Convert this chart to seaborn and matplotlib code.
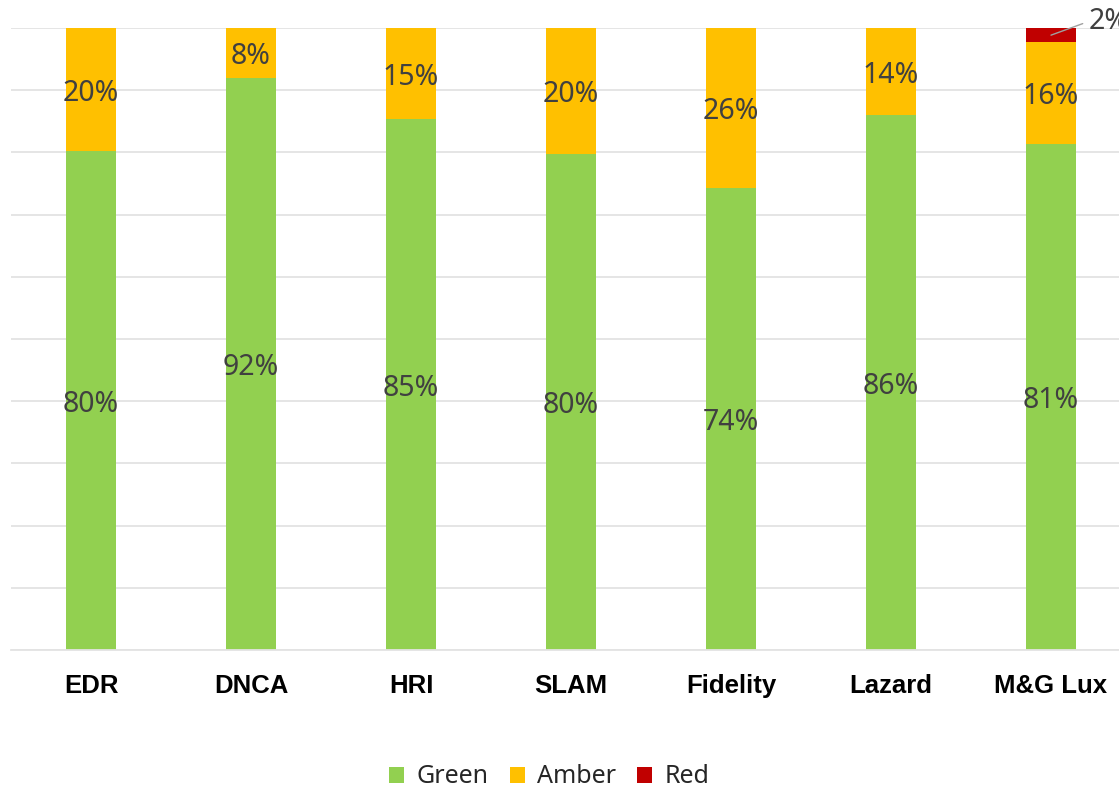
import pandas as pd
import numpy as np
import matplotlib
matplotlib.use("Agg")
import matplotlib.pyplot as plt
import seaborn as sns
from matplotlib.patches import Patch

# Datos (porcentajes)
fondos = ["EDR", "DNCA", "HRI", "SLAM", "Fidelity", "Lazard", "M&G Lux"]
verde = [80.2, 92.0, 85.4, 79.7, 74.3, 86.0, 81.4]
ambar = [19.8, 8.0, 14.6, 20.3, 25.7, 14.0, 16.3]
rojo = [0.0, 0.0, 0.0, 0.0, 0.0, 0.0, 2.3]

colores = {"Green": "#92D050", "Amber": "#FFC000", "Red": "#C00000"}

df = pd.DataFrame({"Fondo": fondos, "Green": verde, "Amber": ambar, "Red": rojo})
df["c1"] = df["Green"]
df["c2"] = df["Green"] + df["Amber"]
df["c3"] = df["c2"] + df["Red"]

sns.set_style("white")
plt.rcParams["font.family"] = ["Noto Sans", "DejaVu Sans"]

fig = plt.figure(figsize=(11.19, 7.88), dpi=100)
ax = fig.add_axes([11 / 1119, 138 / 788, 1108 / 1119, 622 / 788])

# Barras apiladas: se dibujan los acumulados de mayor a menor
ancho = 0.3125
sns.barplot(data=df, x="Fondo", y="c3", color=colores["Red"], width=ancho,
            linewidth=0, saturation=1, ax=ax)
sns.barplot(data=df, x="Fondo", y="c2", color=colores["Amber"], width=ancho,
            linewidth=0, saturation=1, ax=ax)
sns.barplot(data=df, x="Fondo", y="c1", color=colores["Green"], width=ancho,
            linewidth=0, saturation=1, ax=ax)

ax.set_ylim(0, 100)
ax.set_xlim(-0.5, (1119 - 91) / 160)
ax.set_yticks(np.arange(0, 101, 10))
ax.set_yticklabels([])
ax.tick_params(axis="y", length=0)
ax.tick_params(axis="x", length=0, pad=17)
ax.yaxis.grid(True, color="#e3e3e3", linewidth=1.3)
ax.set_axisbelow(True)
for s in ["top", "right", "left"]:
    ax.spines[s].set_visible(False)
ax.spines["bottom"].set_color("#e3e3e3")
ax.spines["bottom"].set_linewidth(1.3)
ax.set_xlabel("")
ax.set_ylabel("")
for lbl in ax.get_xticklabels():
    lbl.set_fontfamily("Liberation Sans")
    lbl.set_fontweight("bold")
    lbl.set_fontsize(18.5)
    lbl.set_color("black")

# Etiquetas de porcentaje
color_txt = "#404040"
for i, fila in df.iterrows():
    ax.text(i, fila["Green"] / 2 - 0.6, f"{round(fila['Green'])}%", ha="center",
            va="center", fontsize=20.5, color=color_txt)
    ax.text(i, fila["Green"] + fila["Amber"] / 2 - 0.6, f"{round(fila['Amber'])}%",
            ha="center", va="center", fontsize=20.5, color=color_txt)
    if fila["Red"] > 0:
        ax.annotate(f"{round(fila['Red'])}%", xy=(i, fila["c3"] - fila["Red"] / 2),
                    xytext=(i + 0.235, 101.0), textcoords="data",
                    ha="left", va="center", fontsize=20.5, color=color_txt,
                    annotation_clip=False,
                    arrowprops=dict(arrowstyle="-", color="#a0a0a0", lw=1,
                                    shrinkA=2, shrinkB=0,
                                    connectionstyle="angle,angleA=0,angleB=20,rad=4"))

# Leyenda
handles = [Patch(facecolor=colores[k], edgecolor="none", label=k)
           for k in ["Green", "Amber", "Red"]]
fig.legend(handles=handles, loc="center", bbox_to_anchor=(0.491, 0.014),
           ncol=3, frameon=False, fontsize=18, handlelength=0.6,
           handleheight=0.6, handletextpad=0.5, columnspacing=0.85)

fig.savefig("out.png", dpi=100)
